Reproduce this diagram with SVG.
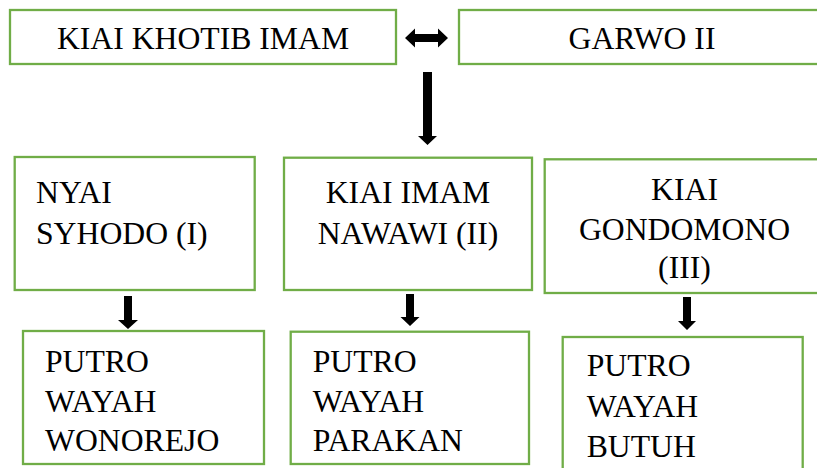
<svg xmlns="http://www.w3.org/2000/svg" width="817" height="468" viewBox="0 0 817 468">
  <style>
    .box { fill: #ffffff; stroke: #70AD47; stroke-width: 2.3; }
    text { font-family: 'Liberation Serif', 'Times New Roman', serif; font-size: 31.7px; fill: #000000; }
    .mid { text-anchor: middle; }
    .arrow { fill: #000000; stroke: none; }
  </style>
  <rect width="817" height="468" fill="#ffffff"/>

  <!-- parents -->
  <g id="kiai-khotib-imam">
    <rect class="box" x="10" y="10" width="386" height="54"/>
    <text class="mid" x="203" y="49">KIAI KHOTIB IMAM</text>
  </g>
  <g id="garwo-ii">
    <rect class="box" x="459" y="10" width="366" height="54"/>
    <text class="mid" x="642" y="49">GARWO II</text>
  </g>

  <!-- children -->
  <g id="nyai-syhodo">
    <rect class="box" x="14.7" y="157" width="240" height="133"/>
    <text x="36" y="203">NYAI</text>
    <text x="36" y="244">SYHODO (I)</text>
  </g>
  <g id="kiai-imam-nawawi">
    <rect class="box" x="284" y="157.7" width="248" height="132.3"/>
    <text class="mid" x="408" y="203">KIAI IMAM</text>
    <text class="mid" x="408" y="244">NAWAWI (II)</text>
  </g>
  <g id="kiai-gondomono">
    <rect class="box" x="544.7" y="159.3" width="280" height="133.7"/>
    <text class="mid" x="684.5" y="200">KIAI</text>
    <text class="mid" x="684.5" y="240">GONDOMONO</text>
    <text class="mid" x="684.5" y="278">(III)</text>
  </g>

  <!-- descendants -->
  <g id="putro-wonorejo">
    <rect class="box" x="23" y="331" width="241" height="133"/>
    <text x="45" y="372">PUTRO</text>
    <text x="45" y="412">WAYAH</text>
    <text x="45" y="451">WONOREJO</text>
  </g>
  <g id="putro-parakan">
    <rect class="box" x="290.7" y="331.7" width="238.3" height="132.3"/>
    <text x="312.7" y="372">PUTRO</text>
    <text x="312.7" y="412">WAYAH</text>
    <text x="312.7" y="451">PARAKAN</text>
  </g>
  <g id="putro-butuh">
    <rect class="box" x="562.7" y="337" width="240" height="145"/>
    <text x="586.7" y="375.7">PUTRO</text>
    <text x="586.7" y="416.7">WAYAH</text>
    <text x="586.7" y="456.7">BUTUH</text>
  </g>

  <!-- block arrows -->
  <g id="connectors">
    <path class="arrow" d="M405,38 L415,28.5 L415,34 L438,34 L438,28.5 L448,38 L438,47.5 L438,42 L415,42 L415,47.5 Z"/>
    <path class="arrow" d="M423,72 L432,72 L432,136 L437,136 L427.5,145 L418,136 L423,136 Z"/>
    <path class="arrow" d="M124,296 L132,296 L132,320 L138,320 L128,329 L118,320 L124,320 Z"/>
    <path class="arrow" d="M406,294 L414,294 L414,317 L419.5,317 L410,326 L400.5,317 L406,317 Z"/>
    <path class="arrow" d="M683,297 L691,297 L691,321 L696,321 L687,330 L678,321 L683,321 Z"/>
  </g>
</svg>
